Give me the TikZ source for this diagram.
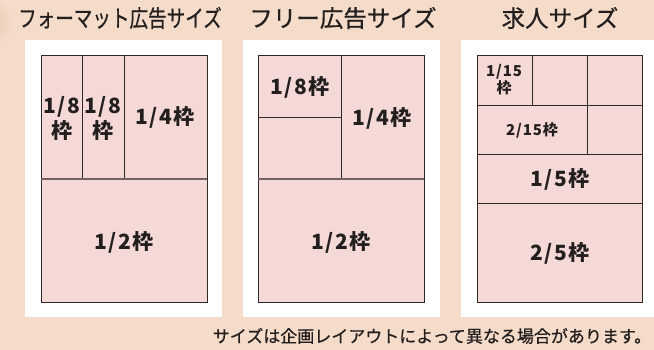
\documentclass[tikz,border=0pt]{standalone}
\usepackage{fontspec}
\setmainfont{Noto Sans CJK JP}
\newfontfamily\sizefont[Numbers=Monospaced,LetterSpace=6]{Noto Sans CJK JP}
\newfontfamily\headfont[FakeBold=0.7]{Noto Sans CJK JP}
\usetikzlibrary{calc}
\usetikzlibrary{positioning}

\definecolor{bgbeige}{HTML}{F5DCCA}
\definecolor{edgeshade}{HTML}{E6C5B2}
\definecolor{cellpink}{HTML}{F4D9D6}
\definecolor{lineink}{HTML}{2E2929}
\definecolor{seamgray}{HTML}{6E6262}
\definecolor{textink}{HTML}{231F1F}

\tikzset{
  cell/.style={fill=cellpink,draw=lineink,line width=0.9pt},
  cutline/.style={draw=lineink,line width=0.9pt},
  seamline/.style={draw=seamgray,line width=1.4pt},
  sizelabel/.style={font=\sizefont\bfseries\fontsize{21}{25}\selectfont,text=textink,align=center,inner sep=0pt},
  smalllabel/.style={font=\sizefont\bfseries\fontsize{15}{17}\selectfont,text=textink,align=center,inner sep=0pt},
  titletext/.style={font=\headfont\fontsize{23.5}{24}\selectfont,text=textink,inner sep=0pt}
}

\begin{document}
\begin{tikzpicture}[x=1pt,y=-1pt]

\useasboundingbox (0,0) rectangle (654,350);
\fill[bgbeige] (0,0) rectangle (654,350);
\begin{scope}
  \clip (0,0) rectangle (654,350);
  \shade[inner color=edgeshade,outer color=bgbeige] (-12,22) circle (26);
\end{scope}

% white sheets
\fill[white] (25,40) rectangle (222,317);
\fill[white] (243,40) rectangle (440,317);
\fill[white] (461,40) rectangle (654,317);

%%%%%%%%%%%%%%%%%%%
% format ad sizes
\coordinate (FORMAT) at (41,55);
\node[titletext,xscale=0.79] (formattitle) at (120,18) {フォーマット広告サイズ};
\draw[cell] (FORMAT) rectangle ++(166,247);
\draw[cutline] ($(FORMAT)+(41,0)$) -- ++(0,124);
\draw[cutline] ($(FORMAT)+(83,0)$) -- ++(0,124);
\draw[seamline] ($(FORMAT)+(0,124)$) -- ++(166,0);
\node[sizelabel] (format8a) at ($(FORMAT)+(21,63)$) {1/8\\枠};
\node[sizelabel] (format8b) at ($(FORMAT)+(62,63)$) {1/8\\枠};
\node[sizelabel] (format4) at ($(FORMAT)+(124,62)$) {1/4枠};
\node[sizelabel] (format2) at ($(FORMAT)+(83,187)$) {1/2枠};

%%%%%%%%%%%%%%%%%%%
% free ad sizes
\coordinate (FREE) at (258,55);
\node[titletext] (freetitle) at (343,18) {フリー広告サイズ};
\draw[cell] (FREE) rectangle ++(166,247);
\draw[cutline] ($(FREE)+(83,0)$) -- ++(0,124);
\draw[cutline] ($(FREE)+(0,62)$) -- ++(83,0);
\draw[seamline] ($(FREE)+(0,124)$) -- ++(166,0);
\node[sizelabel] (free8) at ($(FREE)+(42,32)$) {1/8枠};
\node[sizelabel] (free4) at ($(FREE)+(124,63)$) {1/4枠};
\node[sizelabel] (free2) at ($(FREE)+(83,187)$) {1/2枠};

%%%%%%%%%%%%%%%%%%%
% job ad sizes
\coordinate (JOB) at (477,55);
\node[titletext] (jobtitle) at (560,18) {求人サイズ};
\draw[cell] (JOB) rectangle ++(165,247);
\draw[cutline] ($(JOB)+(0,50)$) -- ++(165,0);
\draw[cutline] ($(JOB)+(0,99)$) -- ++(165,0);
\draw[cutline] ($(JOB)+(0,148)$) -- ++(165,0);
\draw[cutline] ($(JOB)+(55,0)$) -- ++(0,50);
\draw[cutline] ($(JOB)+(110,0)$) -- ++(0,99);
\node[smalllabel] (job15) at ($(JOB)+(27,25)$) {1/15\\枠};
\node[smalllabel] (job215) at ($(JOB)+(55,75)$) {2/15枠};
\node[sizelabel] (job5) at ($(JOB)+(83,124)$) {1/5枠};
\node[sizelabel] (job25) at ($(JOB)+(83,198)$) {2/5枠};

% note
\node[titletext,font=\headfont\fontsize{17}{17}\selectfont] (sizenote) at (432,336) {サイズは企画レイアウトによって異なる場合があります。};

\end{tikzpicture}
\end{document}
